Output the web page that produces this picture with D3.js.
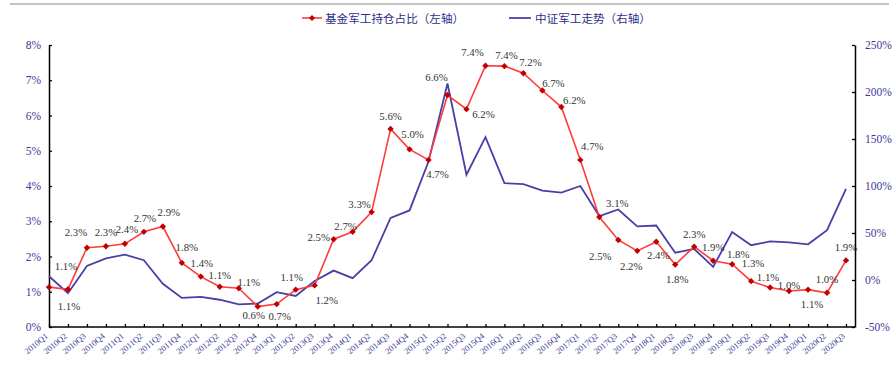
<!DOCTYPE html>
<html><head><meta charset="utf-8">
<script src="https://cdn.jsdelivr.net/npm/d3@7"></script>
<style>body{margin:0;background:#fff;}svg{display:block;}</style>
</head><body><svg id="c" width="893" height="369"></svg>
<script>
const categories = ["2010Q1","2010Q2","2010Q3","2010Q4","2011Q1","2011Q2","2011Q3","2011Q4","2012Q1","2012Q2","2012Q3","2012Q4","2013Q1","2013Q2","2013Q3","2013Q4","2014Q1","2014Q2","2014Q3","2014Q4","2015Q1","2015Q2","2015Q3","2015Q4","2016Q1","2016Q2","2016Q3","2016Q4","2017Q1","2017Q2","2017Q3","2017Q4","2018Q1","2018Q2","2018Q3","2018Q4","2019Q1","2019Q2","2019Q3","2019Q4","2020Q1","2020Q2","2020Q3"];
const fundShare = [1.13,1.07,2.25,2.29,2.36,2.70,2.85,1.82,1.43,1.14,1.10,0.58,0.65,1.06,1.18,2.49,2.70,3.26,5.62,5.04,4.74,6.58,6.18,7.41,7.40,7.20,6.71,6.24,4.74,3.12,2.47,2.16,2.42,1.77,2.28,1.88,1.78,1.30,1.12,1.02,1.06,0.97,1.89];
const indexTrend = [4,-14,15,23,27,21,-4,-19,-18,-21,-26,-25,-13,-17,-1,10,2,21,66,74,126,209,112,152,103,102,95,93,100,68,75,57,58,29,33,14,51,37,41,40,38,53,97];
const leftTicks = [0,1,2,3,4,5,6,7,8];
const rightTicks = [-50,0,50,100,150,200,250];
const seriesNames = ["基金军工持仓占比（左轴）","中证军工走势（右轴）"];
// label placement offsets (dx, dy) for each data label
const labelOffsets = [[17,-21],[1,17],[-11,-16],[0,-14],[2,-15],[1,-14],[6,-15],[5,-16],[1,-14],[0,-12],[10,-6],[-4,8],[3,12],[-4,-13],[12,15],[-15,-2],[-7,-6],[-12,-8],[0,-13],[3,-15],[9,14],[-11,-18],[17,5],[-13,-14],[2,-11],[7,-11],[11,-7],[13,-7],[12,-14],[18,-14],[-18,16],[-6,15],[2,13],[2,14],[0,-13],[0,-14],[6,-10],[2,-18],[-2,-11],[0,-6],[4,14],[0,-14],[0,-13]];

const svg = d3.select("#c");
const X0 = 49, X1 = 846, XAXISEND = 855, YTOP = 45, YBOT = 327;
const x = d3.scalePoint().domain(categories).range([X0, X1]);
const yL = d3.scaleLinear().domain([0,8]).range([YBOT, YTOP]);
const yR = d3.scaleLinear().domain([-50,250]).range([YBOT, YTOP]);
const axisColor = "#3a3a9a";
const serif = "'Liberation Serif','Times New Roman',serif";

// top rule
svg.append("line").attr("x1",10).attr("x2",889).attr("y1",4).attr("y2",4).attr("stroke","#8a8a8a").attr("stroke-width",1.2);

// left axis
const gL = svg.append("g").attr("transform",`translate(${X0},0)`)
  .call(d3.axisLeft(yL).tickValues(leftTicks).tickSizeInner(-3).tickSizeOuter(0).tickPadding(8).tickFormat(d=>d+"%"));
// right axis
const gR = svg.append("g").attr("transform",`translate(${XAXISEND},0)`)
  .call(d3.axisRight(yR).tickValues(rightTicks).tickSizeInner(-3).tickSizeOuter(0).tickPadding(10).tickFormat(d=>d+"%"));
// bottom axis
const gB = svg.append("g").attr("transform",`translate(0,${YBOT})`)
  .call(d3.axisBottom(x).tickSizeInner(-3).tickSizeOuter(0).tickPadding(4));
gB.select(".domain").attr("d",`M${X0},0H${XAXISEND}`);
[gL,gR,gB].forEach(g=>{
  g.select(".domain").attr("stroke","#000").attr("stroke-width",1.5);
  g.selectAll(".tick line").attr("stroke","#000").attr("stroke-width",1.3);
  g.selectAll("text").attr("fill",axisColor).attr("font-family",serif);
});
gL.selectAll("text").attr("font-size",11.5);
gR.selectAll("text").attr("font-size",11.5);
gB.selectAll("text").attr("font-size",8.5).attr("text-anchor","end")
  .attr("dy",null).attr("y",null)
  .attr("transform","translate(-1,10) rotate(-40)");

// blue line
svg.append("path").datum(indexTrend)
  .attr("fill","none").attr("stroke","#4a3fa6").attr("stroke-width",1.8)
  .attr("d", d3.line().x((d,i)=>x(categories[i])).y(d=>yR(d)));

// red line
svg.append("path").datum(fundShare)
  .attr("fill","none").attr("stroke","#ff3b3b").attr("stroke-width",1.6)
  .attr("d", d3.line().x((d,i)=>x(categories[i])).y(d=>yL(d)));
svg.append("g").selectAll("path").data(fundShare).join("path")
  .attr("transform",(d,i)=>`translate(${x(categories[i])},${yL(d)})`)
  .attr("d", d3.symbol().type(d3.symbolDiamond2).size(26))
  .attr("fill","#c00000");

// data labels
svg.append("g").selectAll("text").data(fundShare).join("text")
  .attr("x",(d,i)=>x(categories[i])+labelOffsets[i][0])
  .attr("y",(d,i)=>yL(d)+labelOffsets[i][1])
  .attr("text-anchor","middle").attr("dominant-baseline","central")
  .attr("font-family",serif).attr("font-size",10.8).attr("fill","#333")
  .text(d=>d3.format(".1f")(d)+"%");

// legend
const lg = svg.append("g");
lg.append("line").attr("x1",302).attr("x2",322).attr("y1",18).attr("y2",18).attr("stroke","#ff3b3b").attr("stroke-width",1.6);
lg.append("path").attr("transform","translate(312,18)").attr("d",d3.symbol().type(d3.symbolDiamond2).size(22)).attr("fill","#c00000");
lg.append("text").attr("x",325).attr("y",18).attr("dominant-baseline","central")
  .attr("font-family","'Noto Sans CJK SC'").attr("font-size",11.6).attr("fill","#2e2e8a").text(seriesNames[0]);
lg.append("line").attr("x1",509).attr("x2",531).attr("y1",18).attr("y2",18).attr("stroke","#4a3fa6").attr("stroke-width",1.8);
lg.append("text").attr("x",535).attr("y",18).attr("dominant-baseline","central")
  .attr("font-family","'Noto Sans CJK SC'").attr("font-size",11.6).attr("fill","#2e2e8a").text(seriesNames[1]);
</script></body></html>
